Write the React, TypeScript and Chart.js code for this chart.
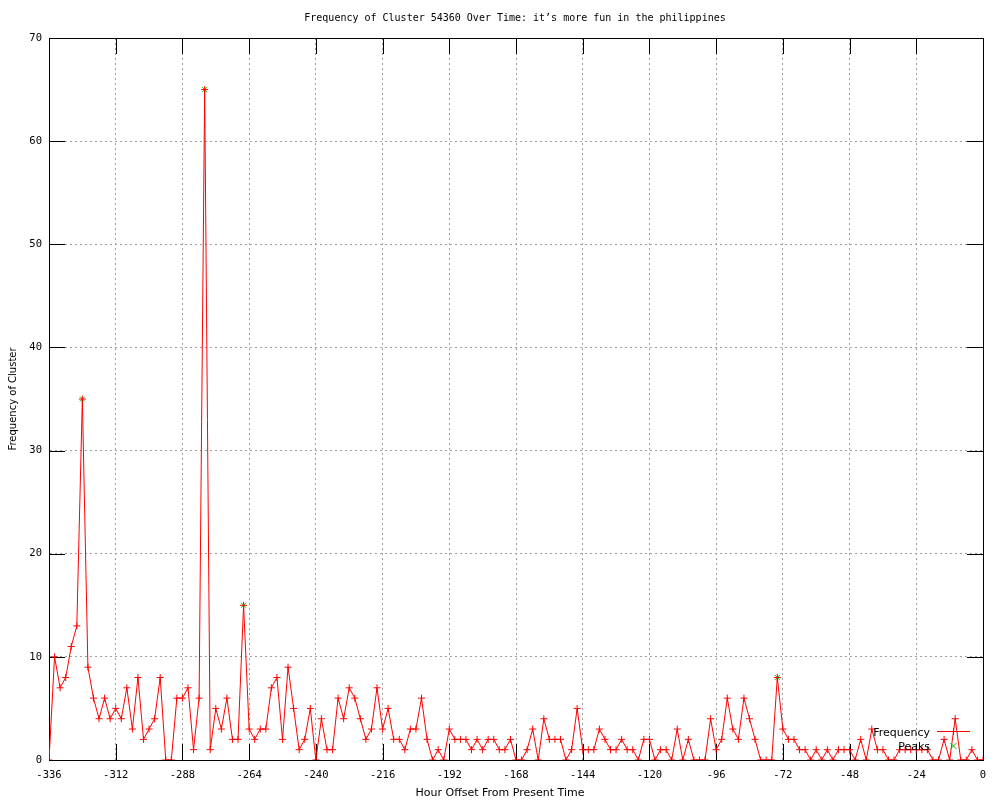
import React, { useEffect, useRef } from "react";
import { Chart, registerables } from "chart.js";

Chart.register(...registerables);

const TITLE = "Frequency of Cluster 54360 Over Time: it\u2019s more fun in the philippines";
const X_LABEL = "Hour Offset From Present Time";
const Y_LABEL = "Frequency of Cluster";
const LEGEND_FREQ = "Frequency";
const LEGEND_PEAKS = "Peaks";

const hours = [
  -336, -334, -332, -330, -328, -326, -324, -322, -320, -318, -316, -314, -312, -310, -308, -306,
  -304, -302, -300, -298, -296, -294, -292, -290, -288, -286, -284, -282, -280, -278, -276, -274,
  -272, -270, -268, -266, -264, -262, -260, -258, -256, -254, -252, -250, -248, -246, -244, -242,
  -240, -238, -236, -234, -232, -230, -228, -226, -224, -222, -220, -218, -216, -214, -212, -210,
  -208, -206, -204, -202, -200, -198, -196, -194, -192, -190, -188, -186, -184, -182, -180, -178,
  -176, -174, -172, -170, -168, -166, -164, -162, -160, -158, -156, -154, -152, -150, -148, -146,
  -144, -142, -140, -138, -136, -134, -132, -130, -128, -126, -124, -122, -120, -118, -116, -114,
  -112, -110, -108, -106, -104, -102, -100, -98, -96, -94, -92, -90, -88, -86, -84, -82,
  -80, -78, -76, -74, -72, -70, -68, -66, -64, -62, -60, -58, -56, -54, -52, -50,
  -48, -46, -44, -42, -40, -38, -36, -34, -32, -30, -28, -26, -24, -22, -20, -18,
  -16, -14, -12, -10, -8, -6, -4, -2, 0,
];

const frequency = [
  0, 10, 7, 8, 11, 13, 35, 9, 6, 4, 6, 4, 5, 4, 7, 3,
  8, 2, 3, 4, 8, 0, 0, 6, 6, 7, 1, 6, 65, 1, 5, 3,
  6, 2, 2, 15, 3, 2, 3, 3, 7, 8, 2, 9, 5, 1, 2, 5,
  0, 4, 1, 1, 6, 4, 7, 6, 4, 2, 3, 7, 3, 5, 2, 2,
  1, 3, 3, 6, 2, 0, 1, 0, 3, 2, 2, 2, 1, 2, 1, 2,
  2, 1, 1, 2, 0, 0, 1, 3, 0, 4, 2, 2, 2, 0, 1, 5,
  1, 1, 1, 3, 2, 1, 1, 2, 1, 1, 0, 2, 2, 0, 1, 1,
  0, 3, 0, 2, 0, 0, 0, 4, 1, 2, 6, 3, 2, 6, 4, 2,
  0, 0, 0, 8, 3, 2, 2, 1, 1, 0, 1, 0, 1, 0, 1, 1,
  1, 0, 2, 0, 3, 1, 1, 0, 0, 1, 1, 1, 1, 1, 1, 0,
  0, 2, 0, 4, 0, 0, 1, 0, 0,
];

const peakHours = [-324, -280, -266, -74];
const peakValues = [35, 65, 15, 8];

const xTicks = [-336, -312, -288, -264, -240, -216, -192, -168, -144, -120, -96, -72, -48, -24, 0];
const yTicks = [0, 10, 20, 30, 40, 50, 60, 70];

const RED = "#ff0000";
const GREEN = "#00c000";

const decorPlugin = {
  id: "gnuplotDecor",
  beforeDatasetsDraw(chart: any) {
    const { ctx, chartArea } = chart;
    const { left, right, top, bottom } = chartArea;
    const xs = chart.scales.x;
    const ys = chart.scales.y;
    const L = 16;
    ctx.save();
    ctx.strokeStyle = "#000";
    ctx.lineWidth = 1;
    ctx.setLineDash([]);
    ctx.beginPath();
    for (const v of xTicks) {
      const px = Math.round(xs.getPixelForValue(v)) + 0.5;
      ctx.moveTo(px, bottom);
      ctx.lineTo(px, bottom - L);
      ctx.moveTo(px, top);
      ctx.lineTo(px, top + L);
    }
    for (const v of yTicks) {
      const py = Math.round(ys.getPixelForValue(v)) + 0.5;
      ctx.moveTo(left, py);
      ctx.lineTo(left + L, py);
      ctx.moveTo(right, py);
      ctx.lineTo(right - L, py);
    }
    ctx.stroke();
    ctx.strokeRect(Math.round(left) + 0.5, Math.round(top) + 0.5, Math.round(right - left), Math.round(bottom - top));
    ctx.restore();
  },
  afterDraw(chart: any) {
    const { ctx } = chart;
    ctx.save();
    ctx.fillStyle = "#000";
    ctx.textBaseline = "middle";
    ctx.textAlign = "center";
    ctx.font = "10px 'DejaVu Sans Mono'";
    ctx.fillText(TITLE, 515, 18);
    ctx.font = "11px 'DejaVu Sans'";
    ctx.fillText(X_LABEL, 500, 793);
    ctx.save();
    ctx.translate(13, 399);
    ctx.rotate(-Math.PI / 2);
    ctx.font = "10px 'DejaVu Sans'";
    ctx.fillText(Y_LABEL, 0, 0);
    ctx.restore();

    // legend
    ctx.textAlign = "right";
    ctx.font = "11px 'DejaVu Sans'";
    ctx.fillText(LEGEND_FREQ, 930, 733);
    ctx.fillText(LEGEND_PEAKS, 930, 747);
    ctx.fillStyle = RED;
    ctx.fillRect(937, 731, 33, 1);
    ctx.fillRect(953, 728, 1, 7);
    ctx.strokeStyle = GREEN;
    ctx.lineWidth = 1;
    ctx.beginPath();
    ctx.moveTo(950.5, 743);
    ctx.lineTo(956.5, 749);
    ctx.moveTo(956.5, 743);
    ctx.lineTo(950.5, 749);
    ctx.stroke();
    ctx.restore();
  },
};

export default function App() {
  const canvasRef = useRef<HTMLCanvasElement | null>(null);

  useEffect(() => {
    const canvas = canvasRef.current;
    if (!canvas) return;
    const freqData = hours.map((h, i) => ({ x: h, y: frequency[i] }));
    const peakData = peakHours.map((h, i) => ({ x: h, y: peakValues[i] }));
    const tickFont = { family: "'DejaVu Sans Mono'", size: 10.5 };
    const chart = new Chart(canvas, {
      type: "line",
      data: {
        datasets: [
          {
            label: LEGEND_FREQ,
            data: freqData,
            borderColor: RED,
            backgroundColor: RED,
            borderWidth: 1,
            pointStyle: "cross",
            pointRadius: 3.5,
            pointBorderWidth: 1,
            pointBorderColor: RED,
            tension: 0,
            fill: false,
          },
          {
            label: LEGEND_PEAKS,
            data: peakData,
            showLine: false,
            borderColor: GREEN,
            backgroundColor: GREEN,
            pointStyle: "crossRot",
            pointRadius: 3.5,
            pointBorderWidth: 1,
            pointBorderColor: GREEN,
          },
        ],
      },
      options: {
        animation: false,
        responsive: false,
        maintainAspectRatio: false,
        layout: { padding: { top: 38, right: 17, left: 0, bottom: 0 } },
        plugins: {
          legend: { display: false },
          title: { display: false },
          tooltip: { enabled: false },
        },
        scales: {
          x: {
            type: "linear",
            min: -336,
            max: 0,
            afterBuildTicks: (s: any) => {
              s.ticks = xTicks.map((v) => ({ value: v }));
            },
            afterFit: (s: any) => {
              s.height = 40;
            },
            ticks: { color: "#000", font: tickFont, padding: 9, maxRotation: 0, autoSkip: false },
            grid: { color: "#a0a0a0", lineWidth: 1, drawTicks: false },
            border: { display: true, color: "#000", width: 1, dash: [2, 3] },
          },
          y: {
            type: "linear",
            min: 0,
            max: 70,
            afterBuildTicks: (s: any) => {
              s.ticks = yTicks.map((v) => ({ value: v }));
            },
            afterFit: (s: any) => {
              s.width = 49;
            },
            ticks: { color: "#000", font: tickFont, padding: 7 },
            grid: { color: "#a0a0a0", lineWidth: 1, drawTicks: false },
            border: { display: true, color: "#000", width: 1, dash: [2, 3] },
          },
        },
      },
      plugins: [decorPlugin],
    } as any);
    return () => chart.destroy();
  }, []);

  return (
    <div style={{ position: "fixed", left: 0, top: 0, width: 1000, height: 800, background: "#fff" }}>
      <canvas ref={canvasRef} width={1000} height={800} style={{ width: 1000, height: 800, display: "block" }} />
    </div>
  );
}
